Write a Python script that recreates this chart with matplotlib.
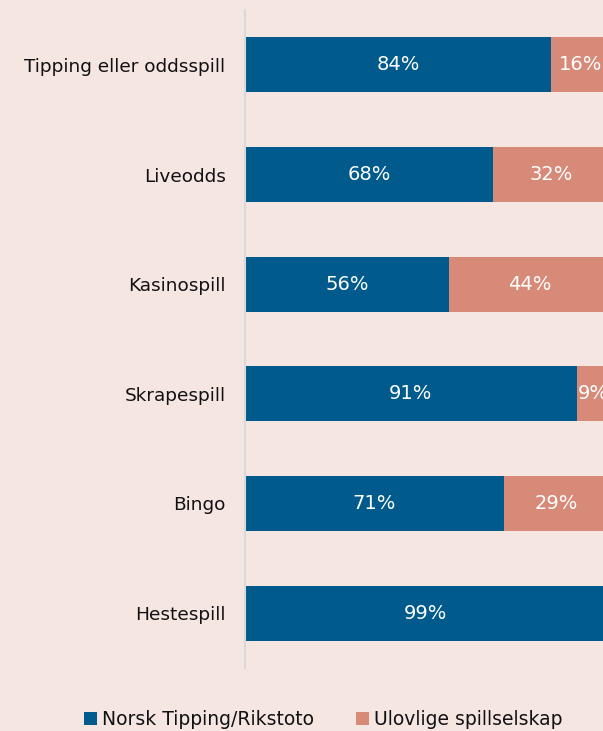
import matplotlib.pyplot as plt
import numpy as np

# Data
categories = ["Tipping eller oddsspill", "Liveodds", "Kasinospill", "Skrapespill", "Bingo", "Hestespill"]
norsk = [84, 68, 56, 91, 71, 99]
ulovlige = [16, 32, 44, 9, 29, 1]
series_names = ["Norsk Tipping/Rikstoto", "Ulovlige spillselskap"]

bg = '#f5e6e2'
blue = '#005a8c'
salmon = '#d88a78'

plt.rcParams['font.family'] = ['DejaVu Sans']

fig = plt.figure(figsize=(6.03, 7.31), dpi=100, facecolor=bg)
ax = fig.add_axes([245 / 603, 63 / 731, 364.5 / 603, 658 / 731])
ax.set_facecolor(bg)

y = np.arange(len(categories))
ax.barh(y, norsk, height=0.5, color=blue, label=series_names[0])
ax.barh(y, ulovlige, left=norsk, height=0.5, color=salmon, label=series_names[1])

# value labels (tiny segments have no label in the original)
for yi, a, b in zip(y, norsk, ulovlige):
    ax.text(a / 2, yi, f"{a}%", ha='center', va='center', color='white', fontsize=14)
    if b >= 5:
        ax.text(a + b / 2, yi, f"{b}%", ha='center', va='center', color='white', fontsize=14)

ax.set_xlim(0, 100)
ax.set_ylim(len(categories) - 0.5, -0.5)
ax.set_yticks(y)
ax.set_yticklabels(categories, fontsize=13.3, color='#111111')
ax.set_xticks([])
ax.tick_params(axis='y', length=0, pad=14)
for s in ['top', 'right', 'bottom']:
    ax.spines[s].set_visible(False)
ax.spines['left'].set_color('#d9d9d9')
ax.spines['left'].set_linewidth(1.5)

fig.legend(loc='center', bbox_to_anchor=(0.536, 0.016), ncol=2, frameon=False,
           fontsize=13.5, handlelength=0.7, handleheight=0.7, handletextpad=0.3,
           columnspacing=2.2, labelcolor='#111111')

fig.savefig('out.png', facecolor=bg)
